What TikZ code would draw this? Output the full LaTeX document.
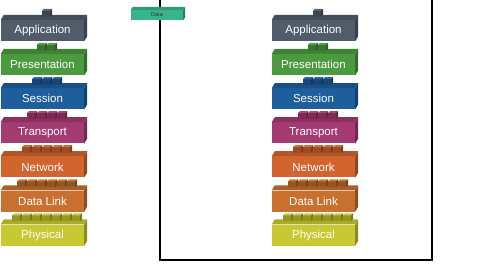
\documentclass[tikz,border=0pt]{standalone}
\usepackage{fontspec}
\setmainfont{Liberation Sans}

\definecolor{appc}{HTML}{505C6A}
\definecolor{presc}{HTML}{4C9A40}
\definecolor{sessc}{HTML}{1E5E9C}
\definecolor{transc}{HTML}{A33A72}
\definecolor{netc}{HTML}{D2642E}
\definecolor{linkc}{HTML}{C8702F}
\definecolor{physc}{HTML}{C8C832}
\definecolor{datac}{HTML}{38B48C}

\tikzset{
  layerbox/.style={inner sep=0pt, minimum width=83pt, minimum height=21pt,
    text=white, font=\fontsize{11.5}{13}\selectfont},
  databox/.style={inner sep=0pt, minimum width=52pt, minimum height=10pt,
    fill=datac, text=black!80, font=\fontsize{5.5}{6}\selectfont},
  wire/.style={line width=2pt, black},
}

% one layer block: name, position, colour, tabs, label
\newcommand{\osilayer}[5]{%
  \node[layerbox, fill=#3] (#1) at (#2) {#5};
  \fill[#3!70!black] (#1.north east) -- ++(3,-5) -- ([shift={(3,-5)}]#1.south east) -- (#1.south east) -- cycle;
  \fill[#3!85!black] (#1.north west) -- ++(3,-5) -- ([shift={(3,-5)}]#1.north east) -- (#1.north east) -- cycle;
  \foreach \t in {1,...,#4}{
    \pgfmathsetmacro{\tx}{4.5-5*#4+10*(\t-1)}
    \fill[#3!75!black] ([shift={(\tx,-3)}]#1.north) rectangle ++(8,-6);
    \fill[#3!95!white] ([shift={(\tx,-9)}]#1.north) -- ++(2,-2) -- ++(8,0) -- ++(-2,2) -- cycle;
    \fill[#3!60!black] ([shift={(\tx+8,-3)}]#1.north) -- ++(0,-6) -- ++(2,-2) -- ++(0,6) -- cycle;
  }%
}

\begin{document}
\begin{tikzpicture}[x=1pt, y=-1pt]
  \useasboundingbox (0,0) rectangle (489,279);

  % Wire between the two stacks
  \coordinate (wireL) at (160,0);
  \coordinate (wireR) at (432,0);
  \draw[wire] (wireL) -- ++(0,260) -| (wireR);

  % Sending stack
  \osilayer{sApp}{42.5,30.5}{appc}{1}{Application}
  \osilayer{sPres}{42.5,64.6}{presc}{2}{Presentation}
  \osilayer{sSess}{42.5,98.7}{sessc}{3}{Session}
  \osilayer{sTrans}{42.5,132.8}{transc}{4}{Transport}
  \osilayer{sNet}{42.5,166.9}{netc}{5}{Network}
  \osilayer{sLink}{42.5,201}{linkc}{6}{Data Link}
  \osilayer{sPhys}{42.5,235.1}{physc}{7}{Physical}

  % Receiving stack
  \osilayer{rApp}{313.5,30.5}{appc}{1}{Application}
  \osilayer{rPres}{313.5,64.6}{presc}{2}{Presentation}
  \osilayer{rSess}{313.5,98.7}{sessc}{3}{Session}
  \osilayer{rTrans}{313.5,132.8}{transc}{4}{Transport}
  \osilayer{rNet}{313.5,166.9}{netc}{5}{Network}
  \osilayer{rLink}{313.5,201}{linkc}{6}{Data Link}
  \osilayer{rPhys}{313.5,235.1}{physc}{7}{Physical}

  % Data unit on the wire
  \node[databox] (data) at (157,15) {Data};
  \fill[datac!70!black] (data.north east) -- ++(2,-3) -- ([shift={(2,-3)}]data.south east) -- (data.south east) -- cycle;
  \fill[datac!85!black] (data.north west) -- ++(2,-3) -- ([shift={(2,-3)}]data.north east) -- (data.north east) -- cycle;
\end{tikzpicture}
\end{document}
